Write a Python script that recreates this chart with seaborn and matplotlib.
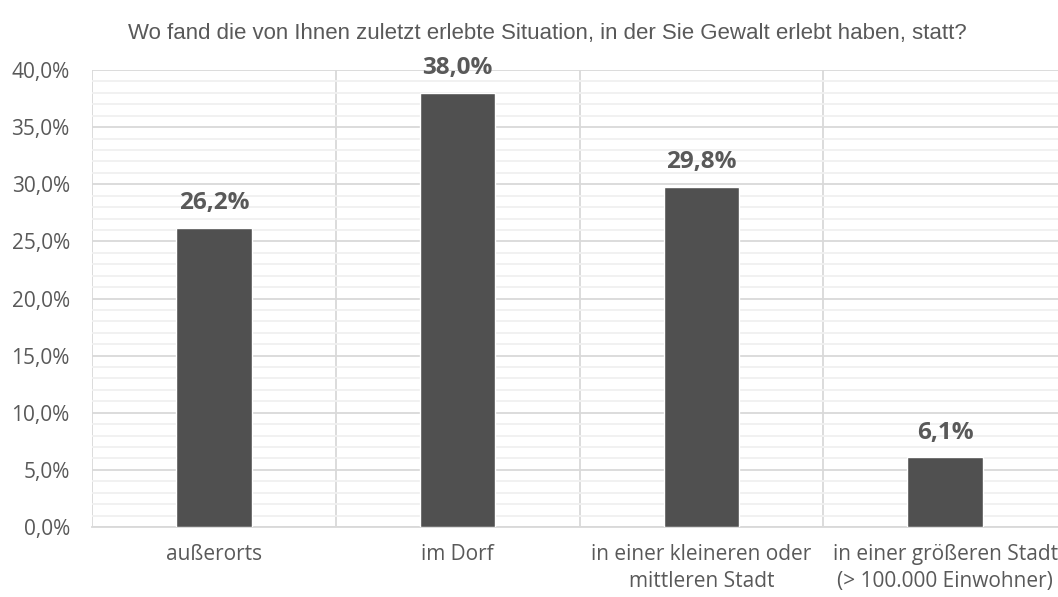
import numpy as np
import pandas as pd
import matplotlib
matplotlib.use("Agg")
import matplotlib.pyplot as plt
import seaborn as sns
from matplotlib.ticker import MultipleLocator, FuncFormatter

categories = ["außerorts", "im Dorf", "in einer kleineren oder\nmittleren Stadt",
              "in einer größeren Stadt\n(> 100.000 Einwohner)"]
values = [26.2, 38.0, 29.8, 6.1]
title = "Wo fand die von Ihnen zuletzt erlebte Situation, in der Sie Gewalt erlebt haben, statt?"

BAR = "#505050"
TEXT = "#595959"
GRID = "#d9d9d9"
MINOR = "#f0f0f0"

sns.set_style("white")
plt.rcParams["font.family"] = ["Open Sans", "DejaVu Sans"]

df = pd.DataFrame({"cat": categories, "val": values})

fig = plt.figure(figsize=(10.58, 5.97), dpi=100)
ax = fig.add_axes([92 / 1058, 70 / 597, 975 / 1058, 457 / 597])

sns.barplot(data=df, x="cat", y="val", color=BAR, width=0.31,
            saturation=1, ax=ax, zorder=3)

ax.set_xlim(-0.5, 3.5)
ax.set_ylim(0, 40)
ax.yaxis.set_major_locator(MultipleLocator(5))
ax.yaxis.set_minor_locator(MultipleLocator(1))
ax.yaxis.set_major_formatter(FuncFormatter(lambda v, p: f"{v:.1f}%".replace(".", ",")))
ax.set_xticks(np.arange(-0.5, 3.6, 1.0), minor=True)

ax.grid(axis="y", which="major", color=GRID, lw=1.3, zorder=0)
ax.grid(axis="y", which="minor", color=MINOR, lw=1.3, zorder=0)
ax.grid(axis="x", which="minor", color=GRID, lw=1.3, zorder=0)
ax.grid(axis="x", which="major", visible=False)

for s in ["top", "right", "left"]:
    ax.spines[s].set_visible(False)
ax.spines["bottom"].set_color(GRID)
ax.spines["bottom"].set_linewidth(1.3)

ax.tick_params(axis="y", which="both", length=0, labelsize=15, labelcolor=TEXT, pad=16)
ax.tick_params(axis="x", which="major", length=0, labelsize=15, labelcolor=TEXT, pad=12)
ax.tick_params(axis="x", which="minor", length=8, width=1.3, color=GRID, direction="out")
for lab in ax.get_xticklabels():
    lab.set_linespacing(1.4)
ax.set_xlabel("")
ax.set_ylabel("")

for i, v in enumerate(values):
    ax.annotate(f"{v:.1f}%".replace(".", ","), (i, v), xytext=(0, 9),
                textcoords="offset points", ha="center", va="bottom",
                fontsize=17.5, fontweight="bold", color=TEXT)

fig.text(547 / 1058, 1 - 33 / 597, title, ha="center", va="center",
         fontsize=16, color=TEXT, family=["Liberation Sans", "DejaVu Sans"])

fig.savefig("out.png", dpi=100)
